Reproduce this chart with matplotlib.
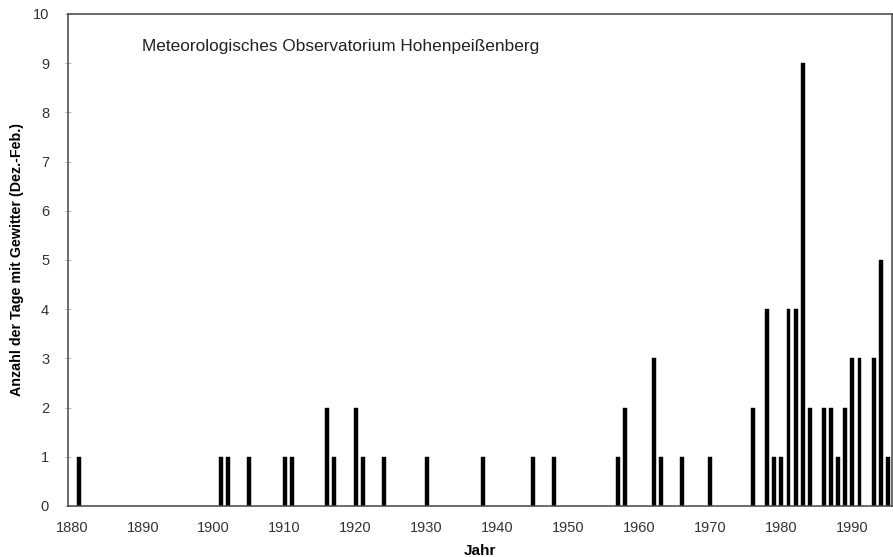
import numpy as np
import matplotlib.pyplot as plt

plt.rcParams['font.family'] = ['Liberation Sans', 'DejaVu Sans']

# ----- Daten: Wintergewitter (Dez.-Feb.) -----
jahre = [1881, 1901, 1902, 1905, 1910, 1911, 1916, 1917, 1920, 1921,
         1924, 1930, 1938, 1945, 1948, 1957, 1958, 1962, 1963, 1966,
         1970, 1976, 1978, 1979, 1980, 1981, 1982, 1983, 1984, 1986,
         1987, 1988, 1989, 1990, 1991, 1993, 1994, 1995]
tage = [1, 1, 1, 1, 1, 1, 2, 1, 2, 1,
        1, 1, 1, 1, 1, 1, 2, 3, 1, 1,
        1, 2, 4, 1, 1, 4, 4, 9, 2, 2,
        2, 1, 2, 3, 3, 3, 5, 1]
xticks = [1880, 1890, 1900, 1910, 1920, 1930, 1940, 1950, 1960, 1970, 1980, 1990]

fig = plt.figure(figsize=(8.93, 5.57), dpi=100)
ax = fig.add_axes([0.076, 0.0916, 0.923, 0.8835])

ax.bar(jahre, tage, width=0.55, color="black", edgecolor="black", linewidth=0.3)

ax.set_xlim(1879.45, 1995.6)
ax.set_ylim(0, 10)
ax.set_xticks(xticks)
ax.set_yticks(range(0, 11))

ax.tick_params(axis="x", length=0, pad=11, labelsize=10.5, colors="#333333")
ax.tick_params(axis="y", direction="inout", length=5, width=0.6, pad=11,
               labelsize=10.5, colors="#333333")
ax.tick_params(axis="y", color="#aaaaaa")

for s in ax.spines.values():
    s.set_color("#444444")
    s.set_linewidth(1.1)

ax.set_xlabel("Jahr", fontsize=11, fontweight="bold", labelpad=6)
ax.set_ylabel("Anzahl der Tage mit Gewitter (Dez.-Feb.)", fontsize=10.3,
              fontweight="bold", labelpad=6)

ax.text(0.09, 0.933, "Meteorologisches Observatorium Hohenpeißenberg",
        transform=ax.transAxes, fontsize=12.4, color="#222222", va="center")

fig.savefig("out.png", dpi=100)
